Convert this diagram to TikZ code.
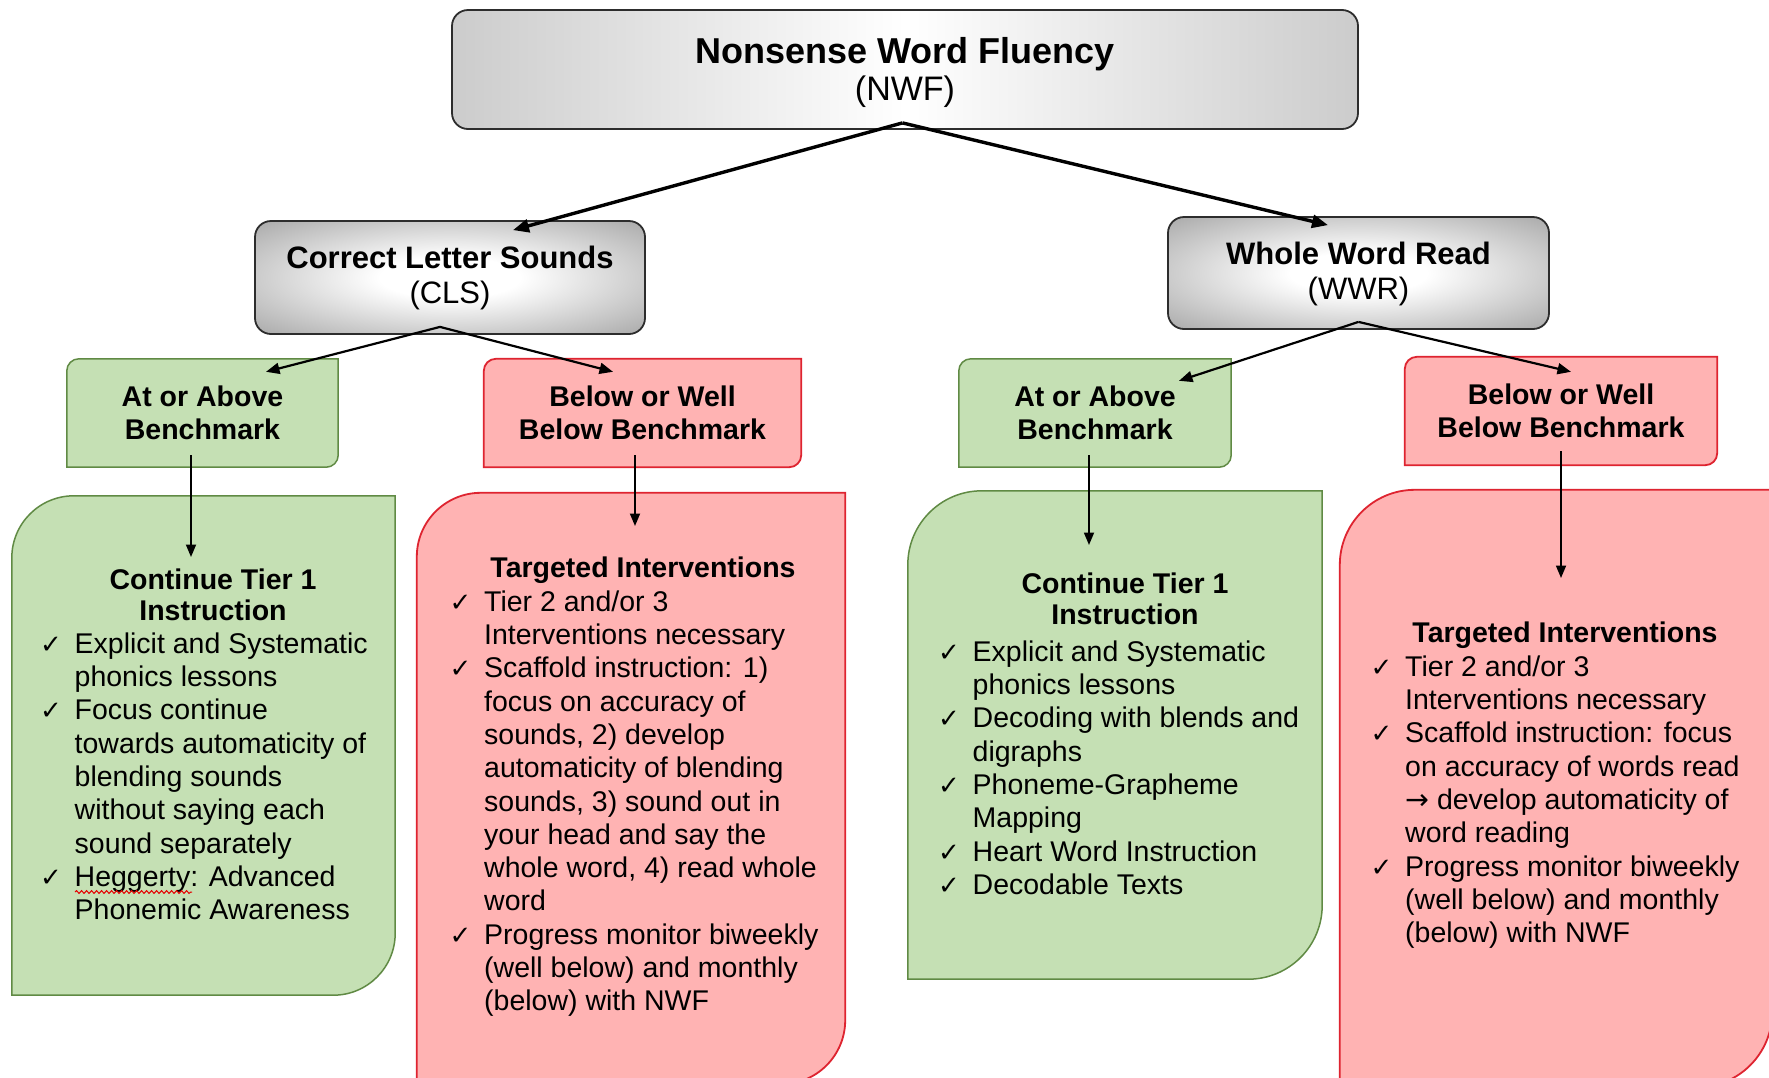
\documentclass[tikz,border=0pt]{standalone}
\usepackage{fontspec}
\setmainfont{Liberation Sans}
\newfontfamily\symfont{DejaVu Sans}
\usetikzlibrary{arrows.meta,backgrounds,calc,decorations.pathmorphing}

\definecolor{leafFill}{RGB}{197,224,180}
\definecolor{leafLine}{RGB}{96,138,68}
\definecolor{roseFill}{RGB}{255,179,179}
\definecolor{roseLine}{RGB}{222,36,48}
\definecolor{boxLine}{RGB}{45,45,45}

% grey fading to white in the middle of the wide title bar
\pgfdeclarehorizontalshading{greyband}{100bp}{%
  color(0bp)=(black!42); color(10bp)=(black!32); color(50bp)=(white);
  color(90bp)=(black!32); color(100bp)=(black!42)}
% light centre fading to grey towards the edges
\pgfdeclareradialshading{greyglow}{\pgfpoint{0bp}{0bp}}{%
  color(0bp)=(white); color(9bp)=(white); color(50bp)=(black!52); color(72bp)=(black!68)}

% check mark and hanging indent for the bullet lists
\newcommand\ck{\makebox[34.5pt][l]{\symfont\fontsize{26}{26}\selectfont ✓}}
\newcommand\ind{\hspace*{34.5pt}}

% outline with rounded top-left and bottom-right corners around a node
\newcommand\diagpath[2]{(#1.south west) -- ([yshift=-#2]#1.north west)
  .. controls ([yshift=-0.448*#2]#1.north west) and ([xshift=0.448*#2]#1.north west) .. ([xshift=#2]#1.north west)
  -- (#1.north east) -- ([yshift=#2]#1.south east)
  .. controls ([yshift=0.448*#2]#1.south east) and ([xshift=-0.448*#2]#1.south east) .. ([xshift=-#2]#1.south east)
  -- cycle}

\tikzset{
  greybox/.style={draw=boxLine, line width=1.8pt, rounded corners=16pt, shading=greyglow,
    align=center, inner sep=0, font=\fontsize{31}{35}\selectfont},
  tagbox/.style={inner sep=0, align=center, font=\fontsize{28.5}{33}\selectfont\bfseries,
    minimum width=#1},
  panel/.style={inner sep=0, draw=none},
  leaf/.style={fill=leafFill, draw=leafLine, line width=1.5pt},
  rose/.style={fill=roseFill, draw=roseLine, line width=1.8pt},
  headtext/.style={anchor=north, align=center, inner sep=0, font=\fontsize{28.5}{31}\selectfont\bfseries},
  listtext/.style={anchor=north west, align=left, inner sep=0, font=\fontsize{28.5}{33.3}\selectfont},
  bigarrow/.style={line width=3.4pt, -{Triangle[length=16pt,width=13pt]}},
  midarrow/.style={line width=2.2pt, -{Triangle[length=13.5pt,width=11pt]}},
  droparrow/.style={line width=1.8pt, -{Triangle[length=12.5pt,width=10pt]}},
}

\begin{document}
\begin{tikzpicture}[x=1pt,y=-1pt]
\clip (0,0) rectangle (1769,1077);

% ---- top level and the two sub-measures
\node[greybox, shading=greyband, font=\fontsize{36}{37}\selectfont,
      minimum width=906pt, minimum height=119pt] (nwf) at (905,69.5)
  {{\bfseries\rule{0pt}{31.5pt}Nonsense Word Fluency}\\
   {\fontsize{34}{37}\selectfont (NWF)}};
\node[greybox, minimum width=390pt, minimum height=113pt] (cls) at (450,277.5)
  {{\bfseries Correct Letter Sounds}\\(CLS)};
\node[greybox, minimum width=381pt, minimum height=112pt] (wwr) at (1358.5,273)
  {{\bfseries\rule{0pt}{25pt}Whole Word Read}\\(WWR)};

% ---- benchmark boxes
\node[tagbox=271pt, minimum height=108pt] (ga) at (202.5,413) {At or Above\\Benchmark};
\node[tagbox=317pt, minimum height=108pt] (ra) at (642.5,413) {Below or Well\\Below Benchmark};
\node[tagbox=272pt, minimum height=108pt] (gb) at (1095,413) {At or Above\\Benchmark};
\node[tagbox=312pt, minimum height=108pt] (rb) at (1561,411) {Below or Well\\Below Benchmark};

% ---- instruction panels
\node[panel, minimum width=383pt, minimum height=499pt] (GA) at (203.5,745.5) {};
\node[panel, minimum width=428pt, minimum height=591pt] (RA) at (631,788.5) {};
\node[panel, minimum width=414pt, minimum height=488pt] (GB) at (1115,735) {};
\node[panel, minimum width=432pt, minimum height=597pt] (RB) at (1556,788.5) {};

\begin{scope}[on background layer]
  \fill[white] (0,0) rectangle (1769,1077);
  \path[leaf] \diagpath{ga}{12pt};
  \path[rose] \diagpath{ra}{12pt};
  \path[leaf] \diagpath{gb}{12pt};
  \path[rose] \diagpath{rb}{12pt};
  \path[leaf] \diagpath{GA}{62pt};
  \path[rose] \diagpath{RA}{64pt};
  \path[leaf] \diagpath{GB}{74pt};
  \path[rose] \diagpath{RB}{75pt};
\end{scope}

% ---- panel texts
\node[headtext] (GA-head) at (213,567.3) {\strut Continue Tier 1\\Instruction};
\node[listtext] (GA-list) at (40,629.7) {\strut\ck Explicit and Systematic\\
  \ind phonics lessons\\
  \ck Focus continue\\
  \ind towards automaticity of\\
  \ind blending sounds\\
  \ind without saying each\\
  \ind sound separately\\
  \ck Heggerty: Advanced\\
  \ind Phonemic Awareness};

\node[headtext] (RA-head) at (643,555.3) {\strut Targeted Interventions};
\node[listtext] (RA-list) at (449.5,587.7) {\strut\ck Tier 2 and/or 3\\
  \ind Interventions necessary\\
  \ck Scaffold instruction: 1)\\
  \ind focus on accuracy of\\
  \ind sounds, 2) develop\\
  \ind automaticity of blending\\
  \ind sounds, 3) sound out in\\
  \ind your head and say the\\
  \ind whole word, 4) read whole\\
  \ind word\\
  \ck Progress monitor biweekly\\
  \ind (well below) and monthly\\
  \ind (below) with NWF};

\node[headtext] (GB-head) at (1125,571.3) {\strut Continue Tier 1\\Instruction};
\node[listtext] (GB-list) at (938,637.7) {\strut\ck Explicit and Systematic\\
  \ind phonics lessons\\
  \ck Decoding with blends and\\
  \ind digraphs\\
  \ck Phoneme-Grapheme\\
  \ind Mapping\\
  \ck Heart Word Instruction\\
  \ck Decodable Texts};

\node[headtext] (RB-head) at (1565,620.3) {\strut Targeted Interventions};
\node[listtext] (RB-list) at (1370.5,652.7) {\strut\ck Tier 2 and/or 3\\
  \ind Interventions necessary\\
  \ck Scaffold instruction: focus\\
  \ind on accuracy of words read\\
  \ind{\symfont →} develop automaticity of\\
  \ind word reading\\
  \ck Progress monitor biweekly\\
  \ind (well below) and monthly\\
  \ind (below) with NWF};

% spelling mark under the programme name
\coordinate (hg-a) at (75,892);
\coordinate (hg-b) at (192,892);
\draw[red!90!black, line width=1pt, decorate,
  decoration={snake, amplitude=1.4pt, segment length=5pt}] (hg-a) -- (hg-b);

% ---- connectors
\draw[bigarrow] ([xshift=-2.5pt,yshift=7pt]nwf.south) -- ([xshift=63pt,yshift=-10pt]cls.north);
\draw[bigarrow] ([xshift=-2.5pt,yshift=7pt]nwf.south) -- ([xshift=-30.5pt,yshift=-9pt]wwr.north);

\draw[midarrow] ([xshift=-10pt,yshift=8pt]cls.south) -- ([xshift=63.5pt,yshift=-13pt]ga.north);
\draw[midarrow] ([xshift=-10pt,yshift=8pt]cls.south) -- ([xshift=-29.5pt,yshift=-13pt]ra.north);
\draw[midarrow] ([yshift=8pt]wwr.south) -- ([xshift=84pt,yshift=-22pt]gb.north);
\draw[midarrow] ([yshift=8pt]wwr.south) -- ([xshift=10pt,yshift=-15pt]rb.north);

\coordinate (GA-in) at (191,557);
\coordinate (RA-in) at (635,526);
\coordinate (GB-in) at (1089,545);
\coordinate (RB-in) at (1561,578);
\draw[droparrow] ($(ga.south -| GA-in)+(0,-12)$) -- (GA-in);
\draw[droparrow] ($(ra.south -| RA-in)+(0,-12)$) -- (RA-in);
\draw[droparrow] ($(gb.south -| GB-in)+(0,-12)$) -- (GB-in);
\draw[droparrow] ($(rb.south -| RB-in)+(0,-14)$) -- (RB-in);
\end{tikzpicture}
\end{document}
